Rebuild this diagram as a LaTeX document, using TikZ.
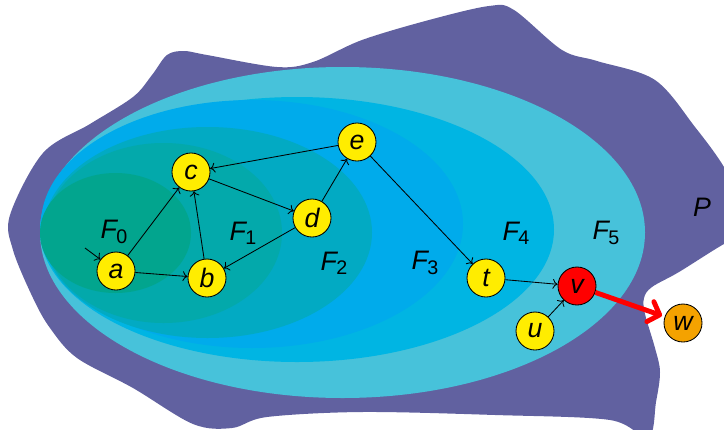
\documentclass[tikz,border=0pt]{standalone}
\usepackage{fontspec}
\setmainfont{Liberation Sans}
\usetikzlibrary{arrows.meta}

\definecolor{regionP}{HTML}{6161A0}
\definecolor{regionF5}{HTML}{47C2DA}
\definecolor{regionF4}{HTML}{00B5E3}
\definecolor{regionF3}{HTML}{00ABEB}
\definecolor{regionF2}{HTML}{02AAC3}
\definecolor{regionF1}{HTML}{03A9AB}
\definecolor{regionF0}{HTML}{02A58E}
\definecolor{vyellow}{HTML}{FFED00}
\definecolor{vred}{HTML}{FF0000}
\definecolor{vorange}{HTML}{F4A200}

\newcommand{\fset}[1]{F\kern-0.5pt\raisebox{-3pt}{\fontsize{14}{15}\selectfont\upshape #1}}

\tikzstyle{vertex} = [
circle,
minimum size=0.95cm,
inner sep=0pt,
draw=black,
line width=0.6pt,
fill=vyellow,
font=\fontsize{19}{21}\selectfont\itshape
]
\tikzstyle{setlabel} = [
font=\fontsize{19}{21}\selectfont\itshape
]
\tikzstyle{arrow} = [
line width=0.6pt,
->,
>={To[length=3.5pt,width=7pt]}
]
\tikzstyle{bigarrow} = [
line width=3.5pt,
->,
>={Straight Barb[length=7pt,width=15pt,line join=round,line cap=round]},
draw=vred
]

\begin{document}
\begin{tikzpicture}[
x=0.025cm,
y=-0.025cm
]

\useasboundingbox (0,0) rectangle (724,429);

% outer region P
\fill [regionP] plot [smooth cycle, tension=0.55] coordinates {
(10,215) (43,153) (90,124) (133,97) (152,75) (167,55) (184,51)
(207,55) (277,67) (313,62) (362,40) (429,20) (489,6) (514,10)
(562,50) (597,61) (655,80) (695,127) (724,167) (742,205) (738,240)
(724,244) (679,272) (652,287) (644,298) (645,314) (655,348)
(660,372) (656,402) (648,438) (610,420) (495,415) (362,412)
(267,417) (232,428) (193,424) (133,388) (77,358) (50,328)
(33,298) (13,250)
};

% nested regions
\fill [regionF5] (342.5,232.5) ellipse [x radius=302.5, y radius=165.5];
\fill [regionF4] (297,229.5) ellipse [x radius=257, y radius=132.5];
\fill [regionF3] (252,224) ellipse [x radius=211, y radius=124];
\fill [regionF2] (207.5,232.5) ellipse [x radius=164.5, y radius=105.5];
\fill [regionF1] (163.5,233) ellipse [x radius=118.5, y radius=90];
\fill [regionF0] (115.5,233) ellipse [x radius=75.5, y radius=60];

\node (labelF0) [setlabel] at (114,232) {\fset{0}};
\node (labelF1) [setlabel] at (243,233) {\fset{1}};
\node (labelF2) [setlabel] at (334,263) {\fset{2}};
\node (labelF3) [setlabel] at (425,263) {\fset{3}};
\node (labelF4) [setlabel] at (516,233) {\fset{4}};
\node (labelF5) [setlabel] at (606,233) {\fset{5}};
\node (labelP) [setlabel] at (702,207) {P};

\node (a) [vertex] at (116,271) {a};
\node (b) [vertex] at (207,278) {b};
\node (c) [vertex] at (191,172) {c};
\node (d) [vertex] at (312,218) {d};
\node (e) [vertex] at (357,142) {e};
\node (t) [vertex] at (486,278) {t};
\node (u) [vertex] at (535,331) {u};
\node (v) [vertex, fill=vred] at (577,286) {v};
\node (w) [vertex, fill=vorange] at (683,323) {w};

\coordinate (start) at (85,248);

\draw [arrow] (start) -- (a);

\draw [arrow] (a) -- (c);

\draw [arrow] (a) -- (b);

\draw [arrow] (b) -- (c);

\draw [arrow] (c) -- (d);

\draw [arrow] (d) -- (b);

\draw [arrow] (d) -- (e);

\draw [arrow] (e) -- (c);

\draw [arrow] (e) -- (t);

\draw [arrow] (t) -- (v);

\draw [arrow] (u) -- (v);

\draw [bigarrow, shorten >=2pt] (v) -- (w);

\end{tikzpicture}
\end{document}
